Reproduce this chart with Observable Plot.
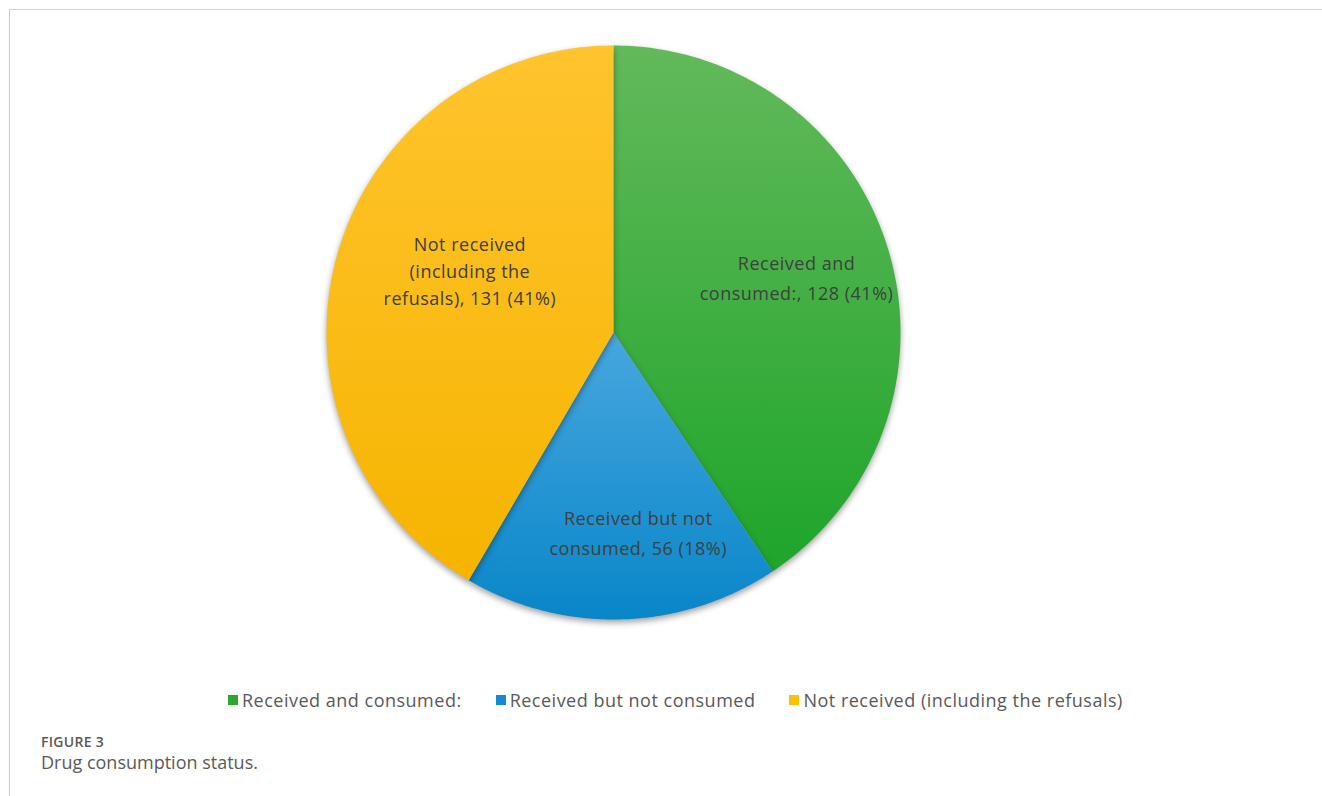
<!DOCTYPE html>
<html><head><meta charset="utf-8">
<script src="https://cdn.jsdelivr.net/npm/d3@7"></script>
<script src="https://cdn.jsdelivr.net/npm/@observablehq/plot@0.6"></script>
<style>
body{margin:0;background:#fff;width:1322px;height:796px;overflow:hidden;position:relative;font-family:"Open Sans",sans-serif;}
#frame{position:absolute;left:9px;top:9px;right:-5px;bottom:-5px;border-left:1.5px solid #c9c9c9;border-top:1.5px solid #d0d0d0;}
#chart{position:absolute;left:0;top:0;}
#chart g[aria-label="line"]{filter:drop-shadow(0px 3px 3px rgba(0,0,0,0.38));}
#chart g[aria-label="text"]{letter-spacing:0.5px;}
#legend{position:absolute;top:688px;left:228px;display:flex;gap:34px;font-size:18px;letter-spacing:0.5px;color:#595959;white-space:nowrap;}
#legend .item{display:flex;align-items:center;}
#legend .sw{width:10px;height:10px;margin-right:4px;display:inline-block;}
#cap{position:absolute;left:41px;top:732px;color:#5a5a5a;}
#cap .fig{font-size:14px;font-weight:600;letter-spacing:0.3px;}
#cap .ttl{font-size:18px;margin-top:-1px;}
</style></head>
<body>
<div id="frame"></div>
<div id="chart"></div>
<div id="legend"></div>
<div id="cap"><div class="fig">FIGURE 3</div><div class="ttl">Drug consumption status.</div></div>
<script>
const categories = ["Received and consumed:", "Received but not consumed", "Not received (including the refusals)"];
const values = [128, 56, 131];
const percents = ["41%", "18%", "41%"];
const labelTexts = ["Received and\nconsumed:, 128 (41%)", "Received but not\nconsumed, 56 (18%)", "Not received\n(including the\nrefusals), 131 (41%)"];
const legendColors = ["#2ea52e", "#1589d1", "#ffc000"];
const gradTop = ["#63b95b", "#48a7df", "#ffc42e"];
const gradBottom = ["#1ea52a", "#0886c8", "#f6b400"];

const pie = d3.pie().sort(null).value(d => d)(values);
const slices = pie.map((p, i) => {
  const pts = [{x: 0, y: 0}];
  const n = 160;
  for (let k = 0; k <= n; k++) {
    const a = p.startAngle + (p.endAngle - p.startAngle) * k / n;
    pts.push({x: Math.sin(a), y: Math.cos(a)});
  }
  pts.push({x: 0, y: 0});
  return pts;
});
const labelR = 0.67;
const labels = pie.map((p, i) => {
  const a = (p.startAngle + p.endAngle) / 2;
  return {x: labelR * Math.sin(a), y: labelR * Math.cos(a), text: labelTexts[i]};
});
const labelShift = [[-1, -1], [19, 6], [42, -13]];
const labelLH = [1.65, 1.65, 1.5];

const marks = slices.map((pts, i) => Plot.line(pts, {x: "x", y: "y", fill: `url(#grad${i})`, stroke: "none"}));
labels.forEach((l, i) => {
  marks.push(Plot.text([l], {x: "x", y: "y", text: "text", fontSize: 18, lineHeight: labelLH[i], fill: "#404040", dx: labelShift[i][0], dy: labelShift[i][1], fontFamily: "Open Sans"}));
});

const plot = Plot.plot({
  width: 1322, height: 680,
  margin: 0,
  x: {domain: [-1, 1], range: [326, 900], axis: null},
  y: {domain: [-1, 1], range: [619, 45], axis: null},
  marks
});
const svg = d3.select(plot);
const defs = svg.insert("defs", ":first-child");
gradTop.forEach((c, i) => {
  const g = defs.append("linearGradient").attr("id", `grad${i}`).attr("x1", 0).attr("y1", 0).attr("x2", 0).attr("y2", 1);
  g.append("stop").attr("offset", "0%").attr("stop-color", c);
  g.append("stop").attr("offset", "100%").attr("stop-color", gradBottom[i]);
});
document.getElementById("chart").appendChild(plot);

const legend = d3.select("#legend");
categories.forEach((c, i) => {
  const it = legend.append("div").attr("class", "item");
  it.append("span").attr("class", "sw").style("background", legendColors[i]);
  it.append("span").text(c);
});
</script>
</body></html>
